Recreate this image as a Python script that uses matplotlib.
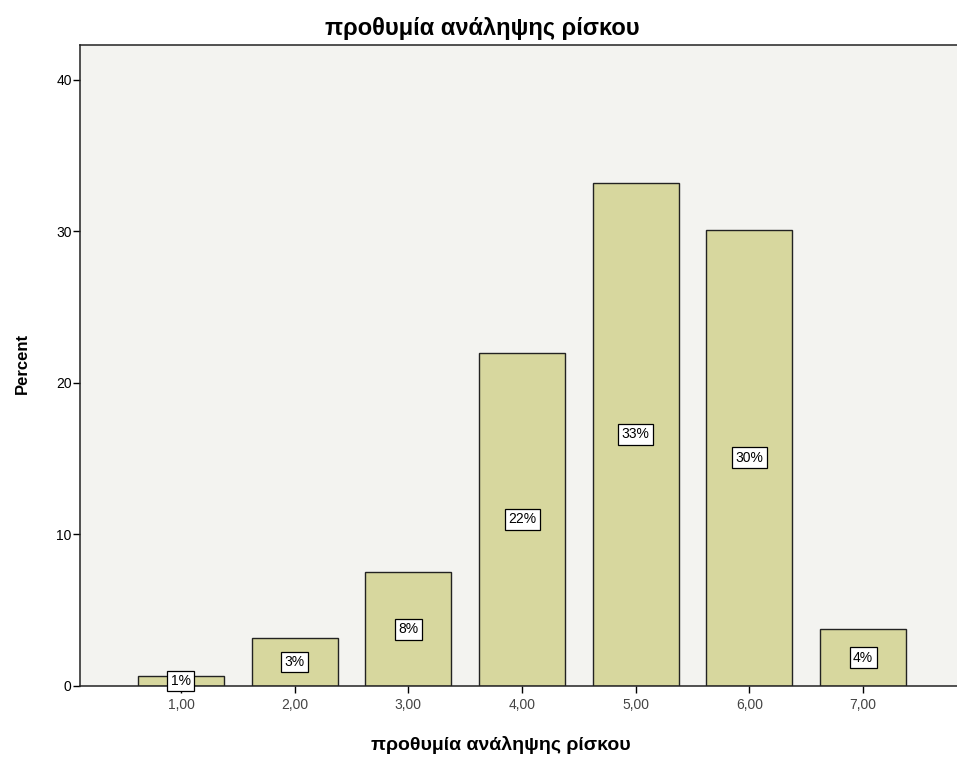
import matplotlib.pyplot as plt
import numpy as np

plt.rcParams['font.family'] = ['Liberation Sans', 'DejaVu Sans']

# risk-taking willingness scores and their share of respondents
categories = [1, 2, 3, 4, 5, 6, 7]
tick_labels = ['1,00', '2,00', '3,00', '4,00', '5,00', '6,00', '7,00']
percent = [0.66, 3.17, 7.5, 22.0, 33.2, 30.1, 3.76]
bar_labels = ['1%', '3%', '8%', '22%', '33%', '30%', '4%']

fig = plt.figure(figsize=(9.57, 7.58), dpi=100)
ax = fig.add_axes([0.0836, 0.095, 0.93, 0.8456])
ax.set_facecolor('#f3f3f0')

bars = ax.bar(categories, percent, width=0.756, color='#d7d79e',
              edgecolor='#222222', linewidth=1.0, zorder=2)

for b, lab, v in zip(bars, bar_labels, percent):
    ax.text(b.get_x() + b.get_width() / 2, v / 2, lab, ha='center', va='center',
            fontsize=10, zorder=3,
            bbox=dict(boxstyle='square,pad=0.25', fc='white', ec='black', lw=0.9))

ax.set_xlim(0.112, 0.112 + 0.93 * 957 / 113.7)
ax.set_ylim(0, 42.3)
ax.set_xticks(categories)
ax.set_xticklabels(tick_labels, fontsize=10, color='#444444')
ax.set_yticks([0, 10, 20, 30, 40])
ax.tick_params(axis='both', direction='out', length=5, width=1, labelsize=10)
ax.tick_params(axis='y', pad=1)
for s in ['left', 'bottom', 'top']:
    ax.spines[s].set_color('#222222')
    ax.spines[s].set_linewidth(1.1)
ax.spines['right'].set_visible(False)

fig.text(0.504, 0.963, 'προθυμία ανάληψης ρίσκου', ha='center', va='center',
         fontsize=17, fontweight='bold')
fig.text(0.523, 0.017, 'προθυμία ανάληψης ρίσκου', ha='center', va='center',
         fontsize=14, fontweight='bold')
fig.text(0.023, 0.52, 'Percent', ha='center', va='center', rotation=90,
         fontsize=12, fontweight='bold')

fig.savefig('out.png', dpi=100, facecolor='white')
